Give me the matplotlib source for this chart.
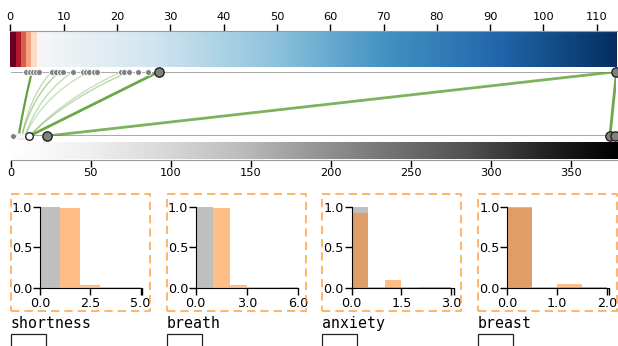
import numpy as np
import matplotlib
matplotlib.use("Agg")
import matplotlib.pyplot as plt
from matplotlib.patches import Rectangle

W, H = 618, 346

# scale maxima of the two colour bars
top_max = 113.7
bottom_max = 378.7

# dots on the top line (top scale) and the bottom line (bottom scale)
top_dots = [2.8, 3.6, 4.2, 4.8, 5.3, 7.7, 8.6, 9.2, 9.8, 11.7, 13.6, 14.2,
            14.8, 15.6, 16.3, 20.8, 21.2, 22.3, 23.9, 25.8]
top_big = [27.8, 113.7]
bottom_dots = [1.7]
bottom_faded = [5.0, 7.0, 9.0]
bottom_open = [11.8]
bottom_big = [22.5, 374.6, 377.7]

# links: (top value, bottom value, width, alpha, bend)
links = [
    (4.0, 5.0, 1.6, 0.9, 0.25),
    (7.7, 7.0, 1.0, 0.35, 1.0),
    (9.2, 7.0, 1.0, 0.45, 1.0),
    (11.7, 9.0, 1.0, 0.35, 1.0),
    (14.8, 9.0, 1.0, 0.3, 1.0),
    (20.8, 11.8, 1.0, 0.3, 0.6),
    (22.3, 11.8, 1.0, 0.4, 0.6),
    (27.8, 11.8, 2.0, 0.85, 0.0),
    (113.7, 22.5, 2.0, 0.75, 0.0),
    (113.7, 374.6, 2.0, 0.85, 0.0),
]

# histogram panels
words = ["shortness", "breath", "anxiety", "breast"]
bin_width = [1.0, 1.0, 0.5, 0.5]
x_max = [5.07, 6.0, 3.07, 2.05]
x_ticks = [[0, 2.5, 5.0], [0, 3.0, 6.0], [0, 1.5, 3.0], [0, 1.0, 2.0]]
gray_hist = [
    [1.0, 0.0, 0.0, 0.0, 0.0],
    [1.0, 0.0, 0.0, 0.0, 0.0, 0.004],
    [1.0, 0.004, 0.004, 0.004, 0.004, 0.004],
    [1.0, 0.004, 0.004, 0.004],
]
orange_hist = [
    [0.0, 0.98, 0.03, 0.005, 0.005],
    [0.0, 0.98, 0.03, 0.005, 0.005, 0.0],
    [0.92, 0.0, 0.09, 0.0, 0.005, 0.005],
    [0.98, 0.0, 0.04, 0.004],
]

GREEN = "#4f9a2a"


def px_axes(fig, left, top, right, bottom):
    return fig.add_axes([left / W, 1 - bottom / H, (right - left) / W, (bottom - top) / H])


fig = plt.figure(figsize=(W / 100, H / 100), dpi=100)

# --- top colour bar ---
ax_top = px_axes(fig, 10.3, 30.7, 616.5, 66.7)
vals = np.linspace(0, top_max, 1500)
cmap = plt.get_cmap("RdBu")
pos = np.where(vals < 5, np.floor(vals) / 10, 0.5 + 0.5 * (vals - 5) / (top_max - 5))
ax_top.imshow(cmap(pos)[None, :, :], extent=[0, top_max, 0, 1], aspect="auto",
              interpolation="nearest")
ax_top.set_xlim(0, top_max)
ax_top.xaxis.tick_top()
ax_top.set_xticks(np.arange(0, 111, 10))
ax_top.set_yticks([])
for s in ["left", "right", "bottom"]:
    ax_top.spines[s].set_visible(False)
ax_top.spines["top"].set_color("#999999")
ax_top.tick_params(axis="x", direction="out", length=5, width=1, labelsize=8.2, pad=1)

# --- bottom grey bar ---
ax_bot = px_axes(fig, 10.6, 141.7, 617, 159.5)
ax_bot.imshow(np.linspace(0, bottom_max, 1500)[None, :], cmap="Greys",
              extent=[0, bottom_max, 0, 1], aspect="auto")
ax_bot.set_xlim(0, bottom_max)
ax_bot.set_xticks(np.arange(0, 351, 50))
ax_bot.set_yticks([])
for s in ["left", "right", "top"]:
    ax_bot.spines[s].set_visible(False)
ax_bot.spines["bottom"].set_color("#999999")
ax_bot.tick_params(axis="x", direction="out", length=5, width=1, labelsize=8.2, pad=1)

# --- link area ---
ax_mid = px_axes(fig, 10.6, 71.7, 616.5, 136)
ax_mid.set_xlim(0, 1)
ax_mid.set_ylim(0, 1)
ax_mid.axis("off")
ax_mid.plot([0, 1], [1, 1], color="#999999", lw=1.2, zorder=1)
ax_mid.plot([0, 1], [0, 0], color="#999999", lw=1.2, zorder=1)

t = np.linspace(0, 1, 60)
for tv, bv, lw, a, bend in links:
    xt, xb = tv / top_max, bv / bottom_max
    cx = (1 - bend) * (xt + xb) / 2 + bend * (xb + 0.3 * (xt - xb))
    cy = (1 - bend) * 0.5 + bend * 0.65
    x = (1 - t) ** 2 * xb + 2 * (1 - t) * t * cx + t ** 2 * xt
    y = 2 * (1 - t) * t * cy + t ** 2
    ax_mid.plot(x, y, color=GREEN, lw=lw, alpha=a, zorder=2, solid_capstyle="round")

kw = dict(clip_on=False, zorder=3)
ax_mid.scatter(np.array(top_dots) / top_max, np.ones(len(top_dots)), s=18,
               color="#808080", edgecolors="white", linewidths=0.6, **kw)
ax_mid.scatter(np.array(top_big) / top_max, np.ones(len(top_big)), s=45,
               color="#808080", edgecolors="#222222", linewidths=1.0, **kw)
ax_mid.scatter(np.array(bottom_dots) / bottom_max, np.zeros(len(bottom_dots)), s=18,
               color="#808080", edgecolors="white", linewidths=0.6, **kw)
ax_mid.scatter(np.array(bottom_faded) / bottom_max, np.zeros(len(bottom_faded)), s=18,
               color="white", edgecolors="#e6e6e6", linewidths=0.6, **kw)
ax_mid.scatter(np.array(bottom_open) / bottom_max, np.zeros(len(bottom_open)), s=30,
               color="white", edgecolors="#222222", linewidths=1.0, **kw)
ax_mid.scatter(np.array(bottom_big) / bottom_max, np.zeros(len(bottom_big)), s=45,
               color="#808080", edgecolors="#222222", linewidths=1.0, **kw)

# --- histogram panels ---
for i, word in enumerate(words):
    left = 40 + 155.8 * i
    ax = px_axes(fig, left, 206.7, left + 102, 287.7)
    w = bin_width[i]
    edges = np.arange(len(gray_hist[i])) * w
    ax.bar(edges, gray_hist[i], width=w, align="edge", color="#808080", alpha=0.5,
           linewidth=0, clip_on=False)
    edges = np.arange(len(orange_hist[i])) * w
    ax.bar(edges, orange_hist[i], width=w, align="edge", color="#ff7f0e", alpha=0.5,
           linewidth=0, clip_on=False)
    ax.set_xlim(0, x_max[i])
    ax.set_ylim(0, 1.0)
    ax.set_xticks(x_ticks[i])
    ax.set_xticklabels([f"{v:.1f}" for v in x_ticks[i]])
    ax.set_xticks([x_max[i]], minor=True)
    ax.set_yticks([0, 0.5, 1.0])
    ax.set_yticklabels(["0.0", "0.5", "1.0"])
    for s in ["top", "right"]:
        ax.spines[s].set_visible(False)
    ax.tick_params(axis="x", which="both", length=5, width=1, labelsize=9.2, pad=2)
    ax.tick_params(axis="y", length=5, width=1, labelsize=9.2, pad=0.5)

    bl = left - 29.3
    fig.add_artist(Rectangle((bl / W, 1 - 311 / H), 139 / W, 117 / H,
                             transform=fig.transFigure, fill=False,
                             edgecolor="#ff8c1a", alpha=0.75, lw=1.2,
                             linestyle=(0, (5, 3))))
    fig.text(bl / W, 1 - 328.3 / H, word, family="DejaVu Sans Mono", fontsize=10.7,
             va="baseline", ha="left")
    fig.add_artist(Rectangle((bl / W, 1 - 352 / H), 35 / W, 18 / H,
                             transform=fig.transFigure, fill=False,
                             edgecolor="#222222", lw=0.9))

plt.savefig("out.png", dpi=100)
